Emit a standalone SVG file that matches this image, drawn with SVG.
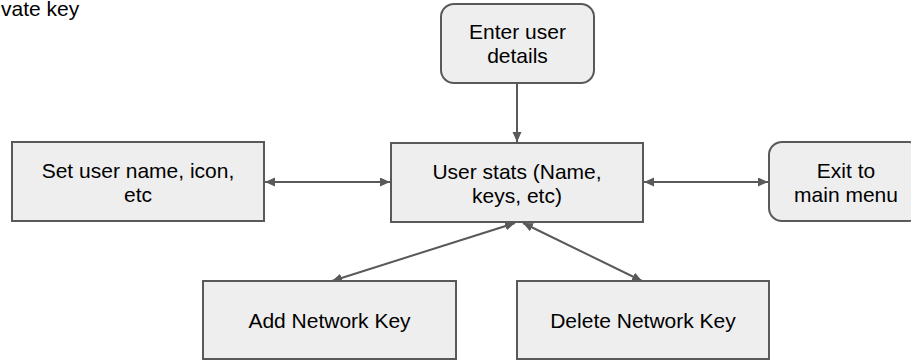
<svg xmlns="http://www.w3.org/2000/svg" width="911" height="362" viewBox="0 0 911 362">
  <style>
    .box { fill: #eeeeee; stroke: #595959; stroke-width: 2; }
    .lbl { font-family: "Liberation Sans", Arial, sans-serif; font-size: 21px; fill: #000000; text-anchor: middle; }
    .free { font-family: "Liberation Sans", Arial, sans-serif; font-size: 21px; fill: #000000; }
    .conn { stroke: #595959; stroke-width: 2; fill: none; }
  </style>
  <defs>
    <marker id="arr" markerUnits="userSpaceOnUse" markerWidth="12" markerHeight="10" refX="10" refY="4.5" orient="auto-start-reverse">
      <path d="M0,0 L10,4.5 L0,9 z" fill="#595959"/>
    </marker>
  </defs>
  <rect width="911" height="362" fill="#ffffff"/>

  <text class="free" x="1" y="16">vate key</text>

  <g id="connectors">
    <line class="conn" x1="517" y1="83" x2="517" y2="142" marker-end="url(#arr)"/>
    <line class="conn" x1="265" y1="182" x2="390" y2="182" marker-start="url(#arr)" marker-end="url(#arr)"/>
    <line class="conn" x1="644" y1="182" x2="768" y2="182" marker-start="url(#arr)" marker-end="url(#arr)"/>
    <line class="conn" x1="515" y1="223" x2="332" y2="281" marker-start="url(#arr)" marker-end="url(#arr)"/>
    <line class="conn" x1="523" y1="223" x2="642" y2="281" marker-start="url(#arr)" marker-end="url(#arr)"/>
  </g>

  <g id="enter-user-details">
    <rect class="box" x="441" y="4" width="153" height="79" rx="13" ry="13"/>
    <text class="lbl" x="517.5" y="39">Enter user</text>
    <text class="lbl" x="517.5" y="63">details</text>
  </g>

  <g id="user-stats">
    <rect class="box" x="391" y="143" width="252" height="79"/>
    <text class="lbl" x="517" y="179">User stats (Name,</text>
    <text class="lbl" x="517" y="203">keys, etc)</text>
  </g>

  <g id="set-user-name">
    <rect class="box" x="12" y="142" width="252" height="79"/>
    <text class="lbl" x="138" y="178">Set user name, icon,</text>
    <text class="lbl" x="138" y="202">etc</text>
  </g>

  <g id="exit-main-menu">
    <rect class="box" x="769" y="142" width="153" height="79" rx="13" ry="13"/>
    <text class="lbl" x="846" y="178">Exit to</text>
    <text class="lbl" x="846" y="202">main menu</text>
  </g>

  <g id="add-network-key">
    <rect class="box" x="203" y="281" width="253" height="78"/>
    <text class="lbl" x="329.5" y="327.5">Add Network Key</text>
  </g>

  <g id="delete-network-key">
    <rect class="box" x="517" y="281" width="252" height="78"/>
    <text class="lbl" x="643" y="327.5">Delete Network Key</text>
  </g>
</svg>
